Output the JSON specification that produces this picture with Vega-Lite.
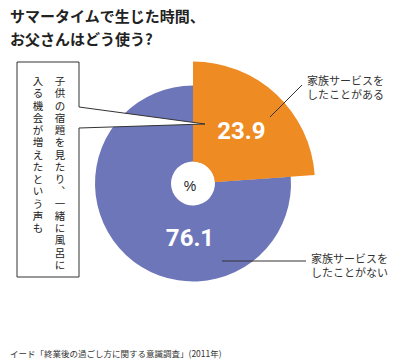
{
  "$schema": "https://vega.github.io/schema/vega-lite/v6.json",
  "width": 386,
  "height": 360,
  "autosize": "none",
  "padding": {"left": 0, "top": 0, "right": 14, "bottom": 0},
  "background": "white",
  "config": {"view": {"stroke": null}, "font": "Noto Sans CJK JP"},
  "data": {"values": [
    {"category": "家族サービスをしたことがある", "value": 23.9},
    {"category": "家族サービスをしたことがない", "value": 76.1}
  ]},
  "resolve": {"scale": {"theta": "independent"}},
  "layer": [
    {
      "mark": {"type": "arc", "outerRadius": 98, "innerRadius": 22, "y": 183.5},
      "encoding": {
        "theta": {"field": "value", "type": "quantitative", "stack": true},
        "order": {"field": "value", "sort": "ascending"},
        "color": {"field": "category", "type": "nominal", "legend": null,
          "scale": {"domain": ["家族サービスをしたことがある", "家族サービスをしたことがない"], "range": ["#EE8B22", "#6E76BA"]}}
      }
    },
    {
      "mark": {"type": "arc", "outerRadius": 122, "innerRadius": 22, "y": 183.5},
      "encoding": {
        "theta": {"field": "value", "type": "quantitative", "stack": true},
        "order": {"field": "value", "sort": "ascending"},
        "color": {"field": "category", "type": "nominal", "legend": null},
        "opacity": {"condition": {"test": "datum.category === '家族サービスをしたことがある'", "value": 1}, "value": 0}
      }
    },
    {
      "mark": {"type": "text", "radius": 71, "y": 183.5, "font": "Roboto", "fontWeight": "bold", "fontSize": 24, "color": "white"},
      "encoding": {
        "theta": {"field": "value", "type": "quantitative", "stack": true},
        "order": {"field": "value", "sort": "ascending"},
        "text": {"condition": {"test": "datum.category === '家族サービスをしたことがある'", "field": "value", "type": "quantitative", "format": ".1f"}, "value": ""}
      }
    },
    {
      "transform": [{"filter": "datum.category === '家族サービスをしたことがない'"}],
      "mark": {"type": "text", "radius": 55, "y": 183.5, "dx": -3, "font": "Roboto", "fontWeight": "bold", "fontSize": 24, "color": "white"},
      "encoding": {
        "theta": {"field": "value", "type": "quantitative", "stack": true},
        "text": {"field": "value", "type": "quantitative", "format": ".1f"}
      }
    },
    {
      "data": {"values": [{"unit": "%"}]},
      "mark": {"type": "text", "y": 183.5, "dx": -3, "dy": 3, "fontSize": 14, "color": "#222", "font": "Liberation Sans"},
      "encoding": {"text": {"field": "unit"}}
    },
    {
      "data": {"values": [{}]},
      "mark": {"type": "rule", "color": "#333", "strokeWidth": 1},
      "encoding": {"x": {"value": 270}, "y": {"value": 117}, "x2": {"value": 302}, "y2": {"value": 85}}
    },
    {
      "data": {"values": [{}]},
      "mark": {"type": "rule", "color": "#333", "strokeWidth": 1},
      "encoding": {"x": {"value": 222}, "y": {"value": 261}, "x2": {"value": 306}, "y2": {"value": 261}}
    },
    {
      "data": {"values": [{}]},
      "mark": {"type": "text", "text": ["家族サービスを", "したことがある"], "align": "left", "baseline": "top", "fontSize": 11, "lineHeight": 14, "color": "#333"},
      "encoding": {"x": {"value": 307}, "y": {"value": 76}}
    },
    {
      "data": {"values": [{}]},
      "mark": {"type": "text", "text": ["家族サービスを", "したことがない"], "align": "left", "baseline": "top", "fontSize": 11, "lineHeight": 14, "color": "#333"},
      "encoding": {"x": {"value": 311}, "y": {"value": 254}}
    },
    {
      "data": {"values": [{}]},
      "mark": {"type": "point", "shape": "M0,0 H62 V45 L188,62 L62,66 V215 H0 Z", "size": 4, "filled": true, "fill": "white", "stroke": "#333", "strokeWidth": 1, "opacity": 1},
      "encoding": {"x": {"value": 17}, "y": {"value": 62}}
    },
    {
      "data": {"values": [{}]},
      "mark": {"type": "text", "text": ["子","供","の","宿","題","を","見","た","り","︑","一","緒","に","風","呂","に"], "align": "center", "baseline": "top", "fontSize": 10.5, "lineHeight": 12.25, "color": "#222"},
      "encoding": {"x": {"value": 60}, "y": {"value": 77}}
    },
    {
      "data": {"values": [{}]},
      "mark": {"type": "text", "text": ["入","る","機","会","が","増","え","た","と","い","う","声","も"], "align": "center", "baseline": "top", "fontSize": 10.5, "lineHeight": 12.25, "color": "#222"},
      "encoding": {"x": {"value": 38}, "y": {"value": 77}}
    },
    {
      "data": {"values": [{}]},
      "mark": {"type": "text", "text": ["サマータイムで生じた時間、", "お父さんはどう使う?"], "align": "left", "baseline": "top", "fontSize": 15, "fontWeight": "bold", "lineHeight": 23, "color": "#222"},
      "encoding": {"x": {"value": 10}, "y": {"value": 10}}
    },
    {
      "data": {"values": [{}]},
      "mark": {"type": "text", "text": "イード「終業後の過ごし方に関する意識調査」(2011年)", "align": "left", "baseline": "middle", "fontSize": 8.5, "color": "#333"},
      "encoding": {"x": {"value": 10}, "y": {"value": 354}}
    }
  ]
}
